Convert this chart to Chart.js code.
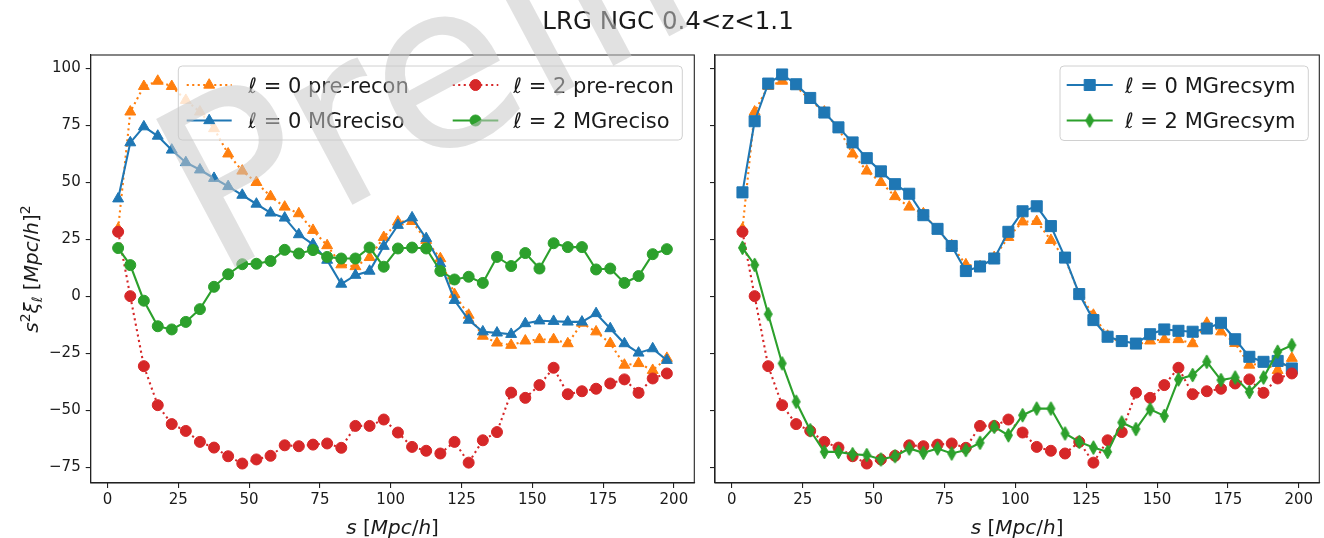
<!DOCTYPE html>
<html>
<head>
<meta charset="utf-8">
<script src="https://cdn.jsdelivr.net/npm/chart.js@4.4.0/dist/chart.umd.min.js"></script>
<style>
  html, body { margin: 0; padding: 0; background: #fff; }
  #wrap { position: relative; width: 1324px; height: 538px; overflow: hidden; background: #fff; }
  canvas { position: absolute; top: 0; }
  #cl { left: 0; width: 700px; height: 538px; }
  #cr { left: 700px; width: 624px; height: 538px; }
  svg { position: absolute; left: 0; top: 0; pointer-events: none; }
</style>
</head>
<body>
<div id="wrap">
  <canvas id="cl" width="700" height="538"></canvas>
  <canvas id="cr" width="624" height="538"></canvas>
  <svg width="1324" height="538">
    <text x="668" y="28.5" text-anchor="middle" font-family="DejaVu Sans" font-size="24.5" fill="#1a1a1a">LRG NGC 0.4&lt;z&lt;1.1</text>
    <text x="215" y="277.7" transform="rotate(-28 215 277.7)" font-family="DejaVu Sans" font-size="230" fill="rgba(200,200,200,0.55)">Preliminary</text>
  </svg>
</div>
<script>
// separation bins s [Mpc/h]
const sBins = [3.75, 8.04, 12.83, 17.74, 22.68, 27.65, 32.63, 37.61, 42.6, 47.59,
  52.58, 57.57, 62.57, 67.56, 72.56, 77.56, 82.55, 87.55, 92.55, 97.55,
  102.55, 107.55, 112.54, 117.54, 122.54, 127.54, 132.54, 137.54, 142.54, 147.54,
  152.54, 157.54, 162.54, 167.54, 172.54, 177.54, 182.54, 187.54, 192.53, 197.53];

// s^2 xi_l, pre-reconstruction
const xi0Pre = [29.5, 80.8, 92.0, 94.3, 92.0, 85.9, 80.8, 73.5, 62.4, 54.9,
  49.9, 43.7, 39.1, 36.2, 28.9, 22.2, 13.8, 13.0, 17.0, 25.8,
  32.6, 32.8, 24.5, 16.5, 0.8, -8.3, -17.5, -20.5, -21.5, -19.6,
  -19.0, -19.0, -20.8, -11.8, -15.6, -20.7, -30.2, -29.5, -32.5, -27.2];
const xi2Pre = [28.2, 0.0, -30.7, -47.8, -56.1, -59.1, -63.9, -66.4, -70.2, -73.4,
  -71.6, -70.0, -65.4, -65.8, -65.1, -64.6, -66.5, -56.9, -56.9, -54.1,
  -59.8, -66.1, -67.8, -69.0, -63.9, -73.0, -63.2, -59.6, -42.3, -44.6,
  -39.0, -31.4, -43.0, -41.7, -40.6, -38.3, -36.5, -42.4, -36.1, -33.9];

// MGreciso reconstruction
const xi0Iso = [42.7, 67.3, 74.3, 70.2, 64.1, 58.6, 55.4, 51.7, 48.1, 44.3,
  40.4, 36.5, 34.3, 27.0, 22.7, 15.8, 5.3, 9.2, 11.0, 21.9,
  31.1, 34.4, 25.3, 14.3, -1.8, -10.5, -15.6, -16.1, -16.7, -12.0,
  -10.8, -11.0, -11.3, -11.3, -7.6, -14.2, -20.8, -24.9, -23.0, -28.1];
const xi2Iso = [21.1, 13.6, -2.0, -13.2, -14.6, -11.3, -5.7, 4.1, 9.6, 14.0,
  14.2, 15.4, 20.3, 18.7, 20.2, 17.2, 16.5, 16.5, 21.3, 12.9,
  20.9, 21.3, 20.9, 11.0, 7.3, 8.5, 5.8, 17.2, 13.2, 18.9,
  12.1, 23.2, 21.5, 21.5, 11.7, 12.1, 5.8, 8.8, 18.4, 20.6];

// MGrecsym reconstruction
const xi0Sym = [45.5, 76.7, 93.2, 97.2, 92.9, 86.9, 80.5, 74.0, 67.4, 60.5,
  54.7, 49.1, 44.9, 35.5, 29.5, 22.0, 11.0, 13.0, 16.5, 28.2,
  37.2, 39.4, 30.7, 16.9, 0.9, -10.5, -17.8, -19.7, -20.8, -16.7,
  -14.6, -15.2, -15.6, -14.2, -11.7, -18.9, -26.6, -28.8, -28.4, -31.7];
const xi2Sym = [21.2, 13.7, -7.9, -29.5, -46.3, -58.8, -68.3, -68.3, -69.3, -69.7,
  -71.6, -70.2, -66.8, -68.7, -66.8, -69.0, -67.5, -64.3, -57.3, -61.0,
  -52.2, -49.3, -49.3, -60.2, -63.9, -66.4, -68.3, -55.4, -58.3, -49.6,
  -52.5, -36.5, -34.6, -28.8, -36.8, -35.7, -42.0, -35.7, -24.4, -21.5];

const xTicks = [0, 25, 50, 75, 100, 125, 150, 175, 200];
const yTicks = [-75, -50, -25, 0, 25, 50, 75, 100];

const FONT = '"DejaVu Sans"';
const INK = '#1a1a1a';
const C = { blue: '#1f77b4', orange: '#ff7f0e', green: '#2ca02c', red: '#d62728' };

// 5% axis margins, the same as the default autoscaling of the plotting tool
function paddedRange(arrs) {
  const all = [].concat(...arrs);
  const lo = Math.min(...all), hi = Math.max(...all);
  const m = 0.05 * (hi - lo);
  return [lo - m, hi + m];
}
const [xMin, xMax] = paddedRange([sBins]);
const [yMin, yMax] = paddedRange([xi0Pre, xi2Pre, xi0Iso, xi2Iso, xi0Sym, xi2Sym]);

// thin diamond marker
function thinDiamond(color) {
  const c = document.createElement('canvas');
  c.width = 11; c.height = 16;
  const g = c.getContext('2d');
  g.beginPath();
  g.moveTo(5.5, 1); g.lineTo(9.5, 8); g.lineTo(5.5, 15); g.lineTo(1.5, 8); g.closePath();
  g.fillStyle = color; g.fill();
  g.lineWidth = 1; g.strokeStyle = color; g.stroke();
  return c;
}

function pts(vals) { return vals.map((v, i) => ({ x: sBins[i], y: v })); }

function series(label, vals, color, style, radius, dotted, order) {
  return {
    label, data: pts(vals), order,
    borderColor: color, backgroundColor: color,
    pointBackgroundColor: color, pointBorderColor: color, pointBorderWidth: 1,
    pointStyle: style, pointRadius: radius, pointHoverRadius: radius,
    borderWidth: 2.1, borderDash: dotted ? [2.1, 3.4] : [],
    tension: 0, fill: false
  };
}

const preRecon0 = () => series('\u2113 = 0 pre-recon', xi0Pre, C.orange, 'triangle', 6.3, true, 4);
const preRecon2 = () => series('\u2113 = 2 pre-recon', xi2Pre, C.red, 'circle', 5.5, true, 2);

const leftSets = [
  preRecon0(),
  series('\u2113 = 0 MGreciso', xi0Iso, C.blue, 'triangle', 6.3, false, 3),
  preRecon2(),
  series('\u2113 = 2 MGreciso', xi2Iso, C.green, 'circle', 5.5, false, 1)
];
const rightSets = [
  preRecon0(),
  series('\u2113 = 0 MGrecsym', xi0Sym, C.blue, 'rect', 7.8, false, 3),
  preRecon2(),
  series('\u2113 = 2 MGrecsym', xi2Sym, C.green, thinDiamond(C.green), 6, false, 1)
];

// text with italic letters, super- and subscripts
function drawMath(ctx, parts, x, y, size, align) {
  let w = 0;
  const items = parts.map(p => {
    const fs = p.s ? size * 0.7 : size;
    const font = (p.i ? 'italic ' : '') + fs + 'px ' + FONT;
    ctx.font = font;
    const pw = ctx.measureText(p.t).width;
    w += pw;
    return { p, font, pw, dy: p.s === 'sup' ? -0.42 * size : p.s === 'sub' ? 0.22 * size : 0 };
  });
  let cx = align === 'center' ? x - w / 2 : x;
  ctx.textAlign = 'left';
  ctx.textBaseline = 'alphabetic';
  items.forEach(it => { ctx.font = it.font; ctx.fillText(it.p.t, cx, y + it.dy); cx += it.pw; });
}

const xLabel = [{ t: 's', i: 1 }, { t: ' [' }, { t: 'Mpc', i: 1 }, { t: '/' }, { t: 'h', i: 1 }, { t: ']' }];
const yLabel = [{ t: 's', i: 1 }, { t: '2', s: 'sup' }, { t: '\u03be', i: 1 }, { t: '\u2113', i: 1, s: 'sub' },
  { t: ' [' }, { t: 'Mpc', i: 1 }, { t: '/' }, { t: 'h', i: 1 }, { t: ']' }, { t: '2', s: 'sup' }];

function legendLabel(txt) {
  // "ℓ = n rest"
  return [{ t: '\u2113', i: 1 }, { t: txt.slice(1) }];
}

const frameAndLabels = {
  id: 'frameAndLabels',
  afterDraw(chart, args, o) {
    const { ctx, chartArea: a } = chart;
    ctx.save();
    ctx.strokeStyle = '#222';
    ctx.lineWidth = 1.1;
    ctx.setLineDash([]);
    ctx.strokeRect(a.left, a.top, a.right - a.left, a.bottom - a.top);
    ctx.fillStyle = INK;
    drawMath(ctx, xLabel, (a.left + a.right) / 2, 533.5, 20, 'center');
    if (o.yLabel) {
      ctx.save();
      ctx.translate(38, (a.top + a.bottom) / 2);
      ctx.rotate(-Math.PI / 2);
      drawMath(ctx, yLabel, 0, 0, 20, 'center');
      ctx.restore();
    }
    // legend
    const L = o.legend;
    ctx.beginPath();
    ctx.roundRect(L.x0, L.y0, L.x1 - L.x0, L.y1 - L.y0, 4);
    ctx.fillStyle = 'rgba(255,255,255,0.8)';
    ctx.fill();
    ctx.strokeStyle = '#d0d0d0';
    ctx.lineWidth = 1;
    ctx.stroke();
    L.items.forEach(it => {
      const ds = chart.data.datasets[it.ds];
      ctx.setLineDash(ds.borderDash);
      ctx.strokeStyle = ds.borderColor;
      ctx.lineWidth = ds.borderWidth;
      ctx.beginPath();
      ctx.moveTo(it.lx0, it.y); ctx.lineTo(it.lx1, it.y);
      ctx.stroke();
      ctx.setLineDash([]);
      ctx.fillStyle = ds.pointBackgroundColor;
      ctx.strokeStyle = ds.pointBorderColor;
      ctx.lineWidth = 1;
      Chart.helpers.drawPoint(ctx, { pointStyle: ds.pointStyle, radius: ds.pointRadius, rotation: 0, borderWidth: 1 }, (it.lx0 + it.lx1) / 2, it.y);
      ctx.fillStyle = INK;
      drawMath(ctx, legendLabel(ds.label), it.tx, it.y + 7.6, 21, 'left');
    });
    ctx.restore();
  }
};

function tickLabel(v) { return v < 0 ? '\u2212' + Math.abs(v) : String(v); }

function makeChart(id, datasets, cfg) {
  const axisStyle = {
    grid: { drawOnChartArea: false, drawTicks: true, tickLength: 5, color: '#222', lineWidth: 1.1 },
    border: { display: true, color: '#222', width: 1.1 }
  };
  return new Chart(document.getElementById(id), {
    type: 'line',
    data: { datasets },
    options: {
      responsive: false, animation: false, devicePixelRatio: 1,
      layout: { autoPadding: false, padding: { left: 0, right: cfg.padRight, top: 55, bottom: 15 } },
      plugins: { legend: { display: false }, tooltip: { enabled: false }, frameAndLabels: cfg.deco },
      elements: { line: { borderCapStyle: 'butt' } },
      scales: {
        x: Object.assign({
          type: 'linear', min: xMin, max: xMax,
          afterBuildTicks: s => { s.ticks = xTicks.map(v => ({ value: v })); },
          afterFit: s => { s.height = 40; s.paddingLeft = 0; s.paddingRight = 0; },
          ticks: { font: { family: FONT, size: 15 }, color: INK, padding: 3, maxRotation: 0, autoSkip: false, callback: tickLabel }
        }, axisStyle),
        y: Object.assign({
          type: 'linear', min: yMin, max: yMax,
          afterBuildTicks: s => { s.ticks = yTicks.map(v => ({ value: v })); },
          afterFit: s => { s.width = cfg.yWidth; s.paddingTop = 0; s.paddingBottom = 0; },
          ticks: { display: cfg.yTickLabels, font: { family: FONT, size: 15 }, color: INK, padding: 5, autoSkip: false, callback: tickLabel }
        }, axisStyle)
      }
    },
    plugins: [frameAndLabels]
  });
}

makeChart('cl', leftSets, {
  padRight: 5.7, yWidth: 90.7, yTickLabels: true,
  deco: {
    yLabel: true,
    legend: {
      x0: 178.3, y0: 66, x1: 682.3, y1: 140,
      items: [
        { ds: 0, lx0: 186.7, lx1: 231.7, y: 85, tx: 248.3 },
        { ds: 1, lx0: 186.7, lx1: 231.7, y: 120.5, tx: 248.3 },
        { ds: 2, lx0: 452.7, lx1: 498.3, y: 85, tx: 513.3 },
        { ds: 3, lx0: 452.7, lx1: 498.3, y: 120.5, tx: 513.3 }
      ]
    }
  }
});

makeChart('cr', rightSets, {
  padRight: 4.7, yWidth: 15, yTickLabels: false,
  deco: {
    yLabel: false,
    legend: {
      x0: 360, y0: 66, x1: 608.3, y1: 140.5,
      items: [
        { ds: 1, lx0: 366.7, lx1: 412.7, y: 85, tx: 425 },
        { ds: 3, lx0: 366.7, lx1: 412.7, y: 120.5, tx: 425 }
      ]
    }
  }
});
</script>
</body>
</html>
